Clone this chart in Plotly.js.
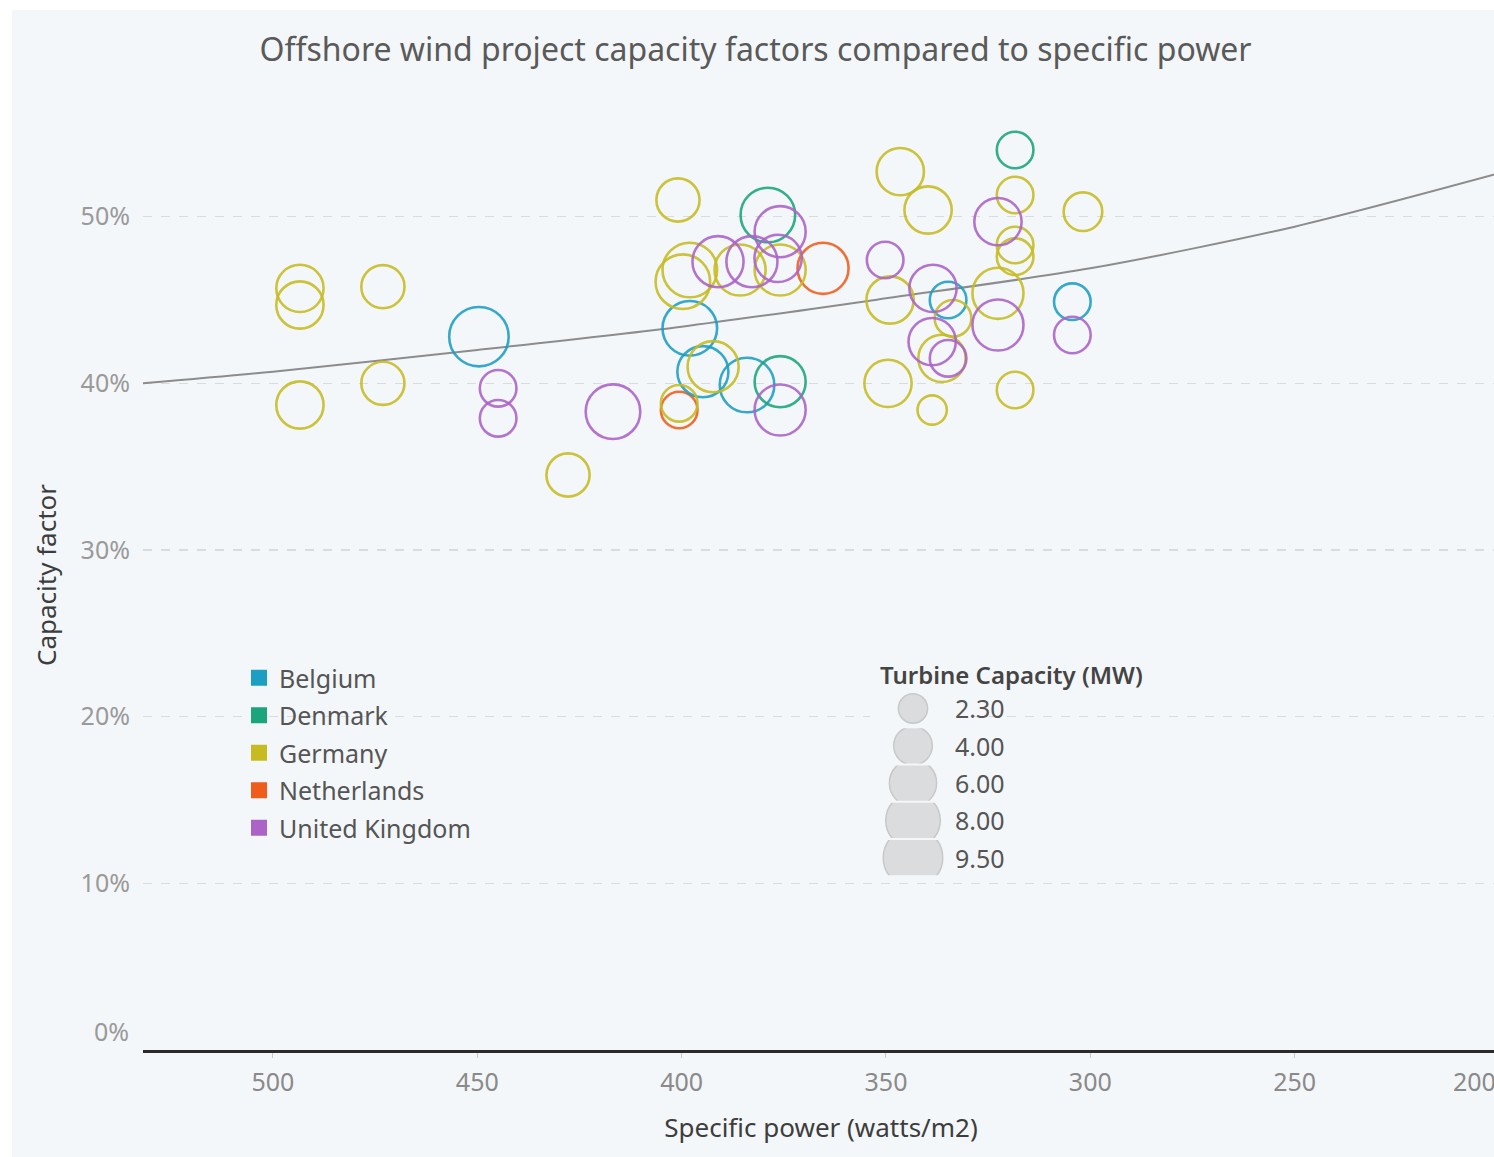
<!DOCTYPE html>
<html>
<head>
<meta charset="utf-8">
<script src="https://cdn.plot.ly/plotly-3.0.1.min.js"></script>
<style>
  html, body { margin: 0; padding: 0; background: #ffffff; overflow: hidden; }
  #chart { position: absolute; left: 12px; top: 10px; width: 1487px; height: 1147px; }
</style>
</head>
<body>
<div id="chart"></div>
<script>
// ---------------- DATA ----------------
const countries = ['Belgium', 'Denmark', 'Germany', 'Netherlands', 'United Kingdom'];
const countryColors = ['#1d9ec3', '#1aa57c', '#c6bc22', '#ef5d1c', '#ab63c8'];

// Specific power (W/m2), capacity factor (%), turbine capacity (MW)
const belgiumPower = [449.6, 398.0, 394.8, 384.0, 334.8, 304.4];
const belgiumCF    = [42.8, 43.3, 40.7, 39.9, 45.0, 44.9];
const belgiumMW    = [9.5, 8, 7, 8, 3.6, 3.6];

const denmarkPower = [378.9, 375.9, 318.4];
const denmarkCF    = [50.1, 40.1, 54.0];
const denmarkMW    = [8, 7, 3.6];

const germanyPower = [493.4, 493.4, 473.1, 473.1, 493.4, 427.8, 400.9, 399.7, 398.0, 392.3, 400.6, 385.7, 375.9,
                      346.5, 339.7, 318.4, 301.8, 318.4, 318.4, 349.0, 333.6, 322.6, 336.3, 349.5, 338.7, 318.4];
const germanyCF    = [45.7, 44.7, 45.8, 40.0, 38.7, 34.5, 51.0, 46.1, 46.8, 41.0, 38.8, 46.8, 46.8,
                      52.7, 50.4, 51.3, 50.3, 48.3, 47.6, 45.0, 43.9, 45.4, 41.5, 40.0, 38.4, 39.6];
const germanyMW    = [6, 6, 5, 5, 6, 5, 5, 8, 8, 7, 3.6, 7, 7,
                      6, 6, 3.6, 4, 3.6, 3.6, 6, 3.6, 7, 6, 6, 2.3, 3.6];

const netherlandsPower = [365.4, 400.6];
const netherlandsCF    = [46.9, 38.4];
const netherlandsMW    = [7, 3.6];

const ukPower = [444.9, 444.9, 416.8, 391.1, 382.8, 375.9, 375.9, 350.2, 322.6, 338.5, 338.7, 334.8, 322.6, 304.4, 376.4];
const ukCF    = [39.7, 37.9, 38.3, 47.3, 47.3, 49.1, 38.4, 47.4, 49.7, 45.7, 42.5, 41.5, 43.5, 42.9, 47.5];
const ukMW    = [3.6, 3.6, 8, 7, 7, 7, 7, 3.6, 6, 6, 6, 3.6, 7, 3.6, 6];

// Trend line
const trendPower = [531.8, 500, 450, 400, 350, 300, 250, 200];
const trendCF    = [40.0, 40.7, 42.0, 43.4, 45.1, 46.9, 49.4, 52.6];

// Size legend
const sizeLegendTitle = 'Turbine Capacity (MW)';
const sizeLegendValues = [2.30, 4.00, 6.00, 8.00, 9.50];

// Axis ticks
const xTickVals = [500, 450, 400, 350, 300, 250, 200];
const xTickText = ['500', '450', '400', '350', '300', '250', ''];
const xEdgeTickLabel = '200';
const yTickVals = [10, 20, 30, 40, 50];
const yTickText = ['10%', '20%', '30%', '40%', '50%'];
const yZeroLabel = '0%';

// ---------------- BUILD ----------------
const seriesPower = [belgiumPower, denmarkPower, germanyPower, netherlandsPower, ukPower];
const seriesCF    = [belgiumCF, denmarkCF, germanyCF, netherlandsCF, ukCF];
const seriesMW    = [belgiumMW, denmarkMW, germanyMW, netherlandsMW, ukMW];

// plotly area mode: diameter = 2*sqrt((v/2)/sizeref); want diameter = 19.3*sqrt(v)
const SIZEREF = 2 / (19.3 * 19.3);
const FONT = 'Noto Sans, Open Sans, sans-serif';

const traces = [];

traces.push({
  x: trendPower, y: trendCF, mode: 'lines', type: 'scatter',
  line: { color: '#8c8c8c', width: 2, shape: 'spline', smoothing: 0.8 },
  showlegend: false, hoverinfo: 'skip', xaxis: 'x', yaxis: 'y'
});

// draw order: Netherlands first so overlapping Germany ring blends over it
const drawOrder = [3, 0, 1, 2, 4];
drawOrder.forEach(i => {
  traces.push({
    x: seriesPower[i], y: seriesCF[i], mode: 'markers', type: 'scatter', name: countries[i],
    marker: {
      size: seriesMW[i], sizemode: 'area', sizeref: SIZEREF,
      color: 'rgba(0,0,0,0)',
      line: { color: countryColors[i], width: 2.6 },
      opacity: 0.88
    },
    showlegend: false, xaxis: 'x', yaxis: 'y'
  });
});

countries.forEach((c, i) => {
  traces.push({
    x: [null], y: [null], mode: 'markers', type: 'scatter', name: c,
    marker: { symbol: 'square', size: 18, color: countryColors[i] },
    legendgroup: 'g' + i, showlegend: true, xaxis: 'x', yaxis: 'y', hoverinfo: 'skip'
  });
});

const PLOT_LEFT = 131, PLOT_W = 1356, PLOT_TOP = 90, PLOT_H = 950; // div coords
const pageToPx = px => (px - 143) / PLOT_W;
const pageToPy = py => (1050 - py) / PLOT_H;
const rowH = 37.3, row0 = 708.5;

const layout = {
  width: 1487, height: 1147,
  paper_bgcolor: '#f4f7f9', plot_bgcolor: '#f4f7f9',
  margin: { l: PLOT_LEFT, r: 0, t: PLOT_TOP, b: 107 },
  font: { family: FONT, color: '#555' },
  title: {
    text: 'Offshore wind project capacity factors compared to specific power',
    font: { family: FONT, size: 32, color: '#5a5a5a' },
    x: 0.5, xref: 'container', xanchor: 'center',
    y: 1 - 40 / 1147, yref: 'container', yanchor: 'middle'
  },
  xaxis: {
    range: [531.8, 200], autorange: false,
    tickmode: 'array', tickvals: xTickVals, ticktext: xTickText,
    ticks: 'outside', ticklen: 5, tickcolor: '#c8c8c8', tickwidth: 1,
    ticklabelstandoff: 3,
    tickfont: { family: FONT, size: 25, color: '#8a8a8a' },
    showgrid: false, zeroline: false,
    showline: true, linecolor: '#2b2b2b', linewidth: 3,
    title: { text: 'Specific power (watts/m2)', font: { family: FONT, size: 26, color: '#3d3d3d' }, standoff: 22 },
    fixedrange: true
  },
  yaxis: {
    range: [0, 57], autorange: false,
    tickmode: 'array', tickvals: yTickVals, ticktext: yTickText, ticks: '',
    ticklabelstandoff: 12,
    tickfont: { family: FONT, size: 25, color: '#9a9a9a' },
    showgrid: true, gridcolor: '#d9dcde', gridwidth: 1.5, griddash: 'dash',
    zeroline: false, showline: false,
    title: { text: 'Capacity factor', font: { family: FONT, size: 26, color: '#3d3d3d' }, standoff: 16 },
    fixedrange: true
  },
  legend: {
    x: pageToPx(239), y: pageToPy(655), xanchor: 'left', yanchor: 'top',
    bgcolor: 'rgba(0,0,0,0)', borderwidth: 0,
    font: { family: FONT, size: 25, color: '#555' },
    tracegroupgap: 2, itemclick: false, itemdoubleclick: false
  },
  annotations: [
    { text: yZeroLabel, xref: 'paper', yref: 'y', x: pageToPx(131), y: 0, yshift: 19,
      xanchor: 'right', yanchor: 'middle', showarrow: false,
      font: { family: FONT, size: 25, color: '#9a9a9a' } },
    { text: xEdgeTickLabel, xref: 'x', yref: 'paper', x: 200, y: 0, xshift: -25, yshift: -31,
      xanchor: 'center', yanchor: 'middle', showarrow: false,
      font: { family: FONT, size: 25, color: '#8a8a8a' } },
    { text: sizeLegendTitle, xref: 'paper', yref: 'paper', x: pageToPx(878), y: pageToPy(674),
      xanchor: 'left', yanchor: 'middle', showarrow: false,
      font: { family: FONT, size: 24, color: '#444', weight: 600 } }
  ],
  showlegend: true
};

layout.xaxis2 = { domain: [pageToPx(870), pageToPx(956)], range: [-1, 1], visible: false, fixedrange: true, anchor: 'y2' };

sizeLegendValues.forEach((v, i) => {
  const c = row0 + rowH * i;
  layout['yaxis' + (i + 2)] = {
    domain: [pageToPy(c + rowH / 2 - 1), pageToPy(c - rowH / 2 + 1)],
    range: [-1, 1], visible: false, fixedrange: true, anchor: 'x2'
  };
  traces.push({
    x: [0], y: [0], mode: 'markers', type: 'scatter', showlegend: false, hoverinfo: 'skip',
    xaxis: 'x2', yaxis: 'y' + (i + 2), cliponaxis: true,
    marker: { size: [v], sizemode: 'area', sizeref: SIZEREF, color: '#d0d1d2',
              line: { color: '#b4b5b6', width: 1.5 } }
  });
  layout.annotations.push({
    text: v.toFixed(2), xref: 'paper', yref: 'paper', x: pageToPx(953), y: pageToPy(c),
    xanchor: 'left', yanchor: 'middle', showarrow: false,
    font: { family: FONT, size: 25, color: '#555' }
  });
});

Plotly.newPlot('chart', traces, layout, { displayModeBar: false, staticPlot: true });
</script>
</body>
</html>
